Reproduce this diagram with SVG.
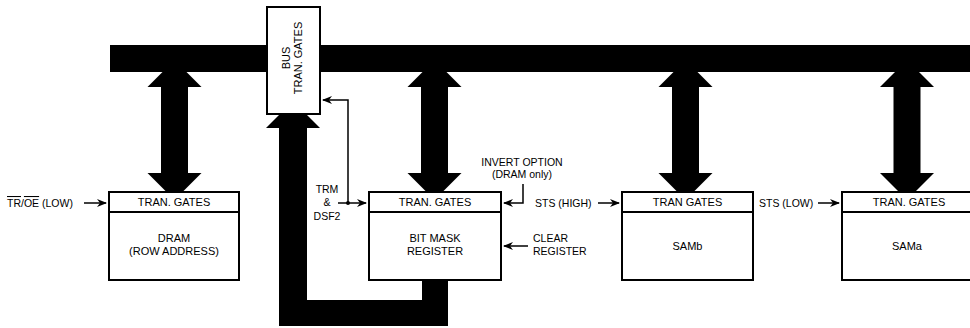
<svg xmlns="http://www.w3.org/2000/svg" width="970" height="328" viewBox="0 0 970 328">
<defs>
<style>
text{font-family:"Liberation Sans",Arial,Helvetica,sans-serif;font-size:11px;fill:#000}
.m{text-anchor:middle}
.s{font-size:10.5px}
.box{fill:#fff;stroke:#000;stroke-width:2}
.div{stroke:#000;stroke-width:2}
.thick{fill:#000}
.thin{fill:none;stroke:#000;stroke-width:1.5}
.ol{text-decoration:overline}
</style>
<marker id="ah" viewBox="0 0 10 8" refX="9" refY="4" markerWidth="10" markerHeight="8" markerUnits="userSpaceOnUse" orient="auto"><path d="M0,0 L10,4 L0,8 L3,4 Z" fill="#000"/></marker>
<path id="dbl" class="thick" d="M0,60 L27,87 L13.5,87 L13.5,173 L27,173 L0,200 L-27,173 L-13.5,173 L-13.5,87 L-27,87 Z"/>
</defs>

<g id="connectors">
<use href="#dbl" x="174.5"/>
<use href="#dbl" x="434.5"/>
<use href="#dbl" x="685.5"/>
<use href="#dbl" x="907"/>
<path class="thick" d="M293,101 L320,128 L307,128 L307,300 L422,300 L422,275 L448,275 L448,326 L279,326 L279,128 L266,128 Z"/>
<line class="thin" x1="84" y1="203" x2="106" y2="203" marker-end="url(#ah)"/>
<polyline class="thin" points="348,203 348,100 323,100" marker-end="url(#ah)"/>
<line class="thin" x1="338" y1="203" x2="366" y2="203" marker-end="url(#ah)"/>
<circle cx="348" cy="203" r="2" fill="#000"/>
<polyline class="thin" points="523,184 523,203 504,203" marker-end="url(#ah)"/>
<line class="thin" x1="598" y1="203" x2="619" y2="203" marker-end="url(#ah)"/>
<line class="thin" x1="818" y1="203" x2="839" y2="203" marker-end="url(#ah)"/>
<line class="thin" x1="528" y1="246" x2="504" y2="246" marker-end="url(#ah)"/>
</g>

<g id="bus">
<rect class="thick" x="110" y="45" width="860" height="27"/>
</g>

<g id="bus-tran-gates">
<rect class="box" x="267" y="7" width="53" height="107"/>
<text class="m" transform="translate(290,58) rotate(-90)">BUS</text>
<text class="m" transform="translate(302,58) rotate(-90)">TRAN. GATES</text>
</g>

<g id="dram">
<rect class="box" x="109" y="192" width="130" height="88"/>
<line class="div" x1="109" y1="212" x2="239" y2="212"/>
<text class="m" x="174" y="206">TRAN. GATES</text>
<text class="m" x="174" y="242">DRAM</text>
<text class="m" x="174" y="255">(ROW ADDRESS)</text>
</g>

<g id="bit-mask-register">
<rect class="box" x="369" y="192" width="132" height="88"/>
<line class="div" x1="369" y1="212" x2="501" y2="212"/>
<text class="m" x="435" y="206">TRAN. GATES</text>
<text class="m" x="435" y="242">BIT MASK</text>
<text class="m" x="435" y="255">REGISTER</text>
</g>

<g id="samb">
<rect class="box" x="622" y="192" width="131" height="88"/>
<line class="div" x1="622" y1="212" x2="753" y2="212"/>
<text class="m" x="687.5" y="206">TRAN GATES</text>
<text class="m" x="687.5" y="250">SAMb</text>
</g>

<g id="sama">
<rect class="box" x="842" y="192" width="134" height="88"/>
<line class="div" x1="842" y1="212" x2="976" y2="212"/>
<text class="m" x="909" y="206">TRAN. GATES</text>
<text class="m" x="907" y="250">SAMa</text>
</g>

<g id="labels">
<text class="s" x="7" y="207"><tspan class="ol">TR</tspan>/<tspan class="ol">OE</tspan> (LOW)</text>
<text class="m s" x="327" y="193">TRM</text>
<text class="m s" x="327" y="206">&amp;</text>
<text class="m s" x="327" y="220">DSF2</text>
<text class="m s" x="522" y="166">INVERT OPTION</text>
<text class="m s" x="522" y="178">(DRAM only)</text>
<text class="s" x="535" y="207">STS (HIGH)</text>
<text class="s" x="533" y="242">CLEAR</text>
<text class="s" x="533" y="255">REGISTER</text>
<text class="s" x="759" y="207">STS (LOW)</text>
</g>
</svg>
